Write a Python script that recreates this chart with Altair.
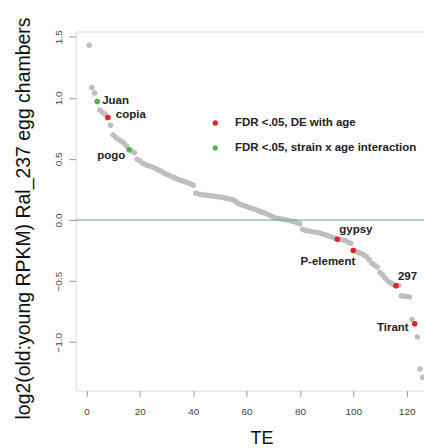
import altair as alt
import pandas as pd

# ---- data ----
te_index = list(range(1, 127))
log2_ratio = [
    1.43, 1.085, 1.04, 0.97, 0.90, 0.88, 0.865, 0.838, 0.775, 0.695,
    0.675, 0.66, 0.645, 0.63, 0.605, 0.575, 0.565, 0.55, 0.497, 0.485,
    0.465, 0.455, 0.445, 0.44, 0.43, 0.42, 0.41, 0.40, 0.385, 0.375,
    0.367, 0.355, 0.345, 0.335, 0.325, 0.32, 0.312, 0.305, 0.295, 0.285,
    0.22, 0.212, 0.208, 0.205, 0.202, 0.20, 0.197, 0.194, 0.19, 0.188,
    0.185, 0.18, 0.175, 0.17, 0.165, 0.15, 0.135, 0.125, 0.118, 0.11,
    0.102, 0.095, 0.088, 0.08, 0.07, 0.062, 0.055, 0.045, 0.035, 0.025,
    0.015, 0.012, 0.008, 0.004, 0.0, -0.005, -0.01, -0.015, -0.022, -0.03,
    -0.075, -0.085, -0.09, -0.093, -0.097, -0.10, -0.104, -0.11, -0.118, -0.125,
    -0.132, -0.14, -0.148, -0.158, -0.16, -0.163, -0.168, -0.18, -0.19, -0.25,
    -0.258, -0.267, -0.275, -0.286, -0.30, -0.325, -0.354, -0.37, -0.385, -0.43,
    -0.45, -0.476, -0.50, -0.515, -0.527, -0.538, -0.535, -0.62, -0.623, -0.626,
    -0.63, -0.814, -0.849, -0.958, -1.22, -1.287,
]

cat_de = "FDR <.05, DE with age"
cat_int = "FDR <.05, strain x age interaction"
highlight_index = [4, 8, 16, 94, 100, 116, 123]
highlight_names = ["Juan", "copia", "pogo", "gypsy", "P-element", "297", "Tirant"]
highlight_class = [cat_int, cat_de, cat_int, cat_de, cat_de, cat_de, cat_de]

x_ticks = [0, 20, 40, 60, 80, 100, 120]
y_ticks = [-1.0, -0.5, 0.0, 0.5, 1.0, 1.5]

# ---- tables ----
df = pd.DataFrame({"te": te_index, "ratio": log2_ratio})
hl = pd.DataFrame({
    "te": highlight_index,
    "ratio": [log2_ratio[i - 1] for i in highlight_index],
    "name": highlight_names,
    "class": highlight_class,
})
zero = pd.DataFrame({"ratio": [0.0]})

FONT = "Liberation Sans"
xscale = alt.Scale(domain=[-4, 126.5], nice=False, zero=False)
yscale = alt.Scale(domain=[-1.396, 1.543], nice=False, zero=False)

xaxis = alt.Axis(
    values=x_ticks, title="TE", grid=False, domain=False,
    tickSize=6, tickColor="#999999", labelFont=FONT, labelFontSize=10,
    labelColor="#444444", labelPadding=10,
    titleFont=FONT, titleFontSize=18, titleFontWeight="normal", titleColor="#111111",
    titleX=186, titleY=48, titleAlign="center", titleBaseline="middle",
)
yaxis = alt.Axis(
    values=y_ticks, format=".1f", title="log2(old:young RPKM) Ral_237 egg chambers",
    grid=False, domain=False, tickSize=7, tickColor="#999999",
    labelFont=FONT, labelFontSize=10, labelColor="#444444",
    labelAngle=270, labelAlign="center", labelBaseline="alphabetic", labelPadding=7,
    titleFont=FONT, titleFontSize=19.5, titleFontWeight="normal", titleColor="#111111",
    titleAngle=270, titleX=-46, titleY=187, titleAlign="center", titleBaseline="alphabetic",
)

base_pts = alt.Chart(df).mark_circle(size=30, color="#bebebe", opacity=1, clip=True).encode(
    x=alt.X("te:Q", scale=xscale, axis=xaxis),
    y=alt.Y("ratio:Q", scale=yscale, axis=yaxis),
)

zero_line = alt.Chart(zero).mark_rule(color="#6f9ea8", strokeWidth=1).encode(
    y=alt.Y("ratio:Q", scale=yscale)
)

hl_pts = alt.Chart(hl).mark_circle(size=30, opacity=1, clip=True).encode(
    x=alt.X("te:Q", scale=xscale),
    y=alt.Y("ratio:Q", scale=yscale),
    color=alt.Color(
        "class:N",
        scale=alt.Scale(domain=[cat_de, cat_int], range=["#e8202a", "#4cb848"]),
        legend=alt.Legend(
            title=None, orient="none", legendX=134, legendY=86, padding=0,
            symbolType="circle", symbolSize=28, symbolStrokeWidth=0, symbolOpacity=1,
            labelFont=FONT, labelFontSize=11.5, labelFontWeight="bold",
            labelColor="#222222", labelOffset=14, rowPadding=12, labelLimit=400,
        ),
    ),
)

# label placement (styling): align, dx, dy
label_style = {
    "Juan": ("left", 5, 0),
    "copia": ("left", 8, -3),
    "pogo": ("right", -4, 6),
    "gypsy": ("left", 2, -9),
    "P-element": ("right", 2, 11),
    "297": ("left", 2, -9),
    "Tirant": ("right", -6, 4),
}
label_layers = []
for name in highlight_names:
    align, dx, dy = label_style[name]
    label_layers.append(
        alt.Chart(hl[hl["name"] == name]).mark_text(
            align=align, baseline="middle", dx=dx, dy=dy, font=FONT,
            fontSize=11.5, fontWeight="bold", color="#222222",
        ).encode(
            x=alt.X("te:Q", scale=xscale),
            y=alt.Y("ratio:Q", scale=yscale),
            text="name:N",
        )
    )

chart = alt.layer(base_pts, zero_line, hl_pts, *label_layers).properties(
    width=349, height=360,
    autosize="none",
    padding={"left": 76, "top": 31, "right": 0, "bottom": 57},
).configure_view(stroke="#b0b0b0", strokeWidth=1).configure(background="white")

chart.save("out.html", embed_options={"renderer": "svg", "actions": False})
